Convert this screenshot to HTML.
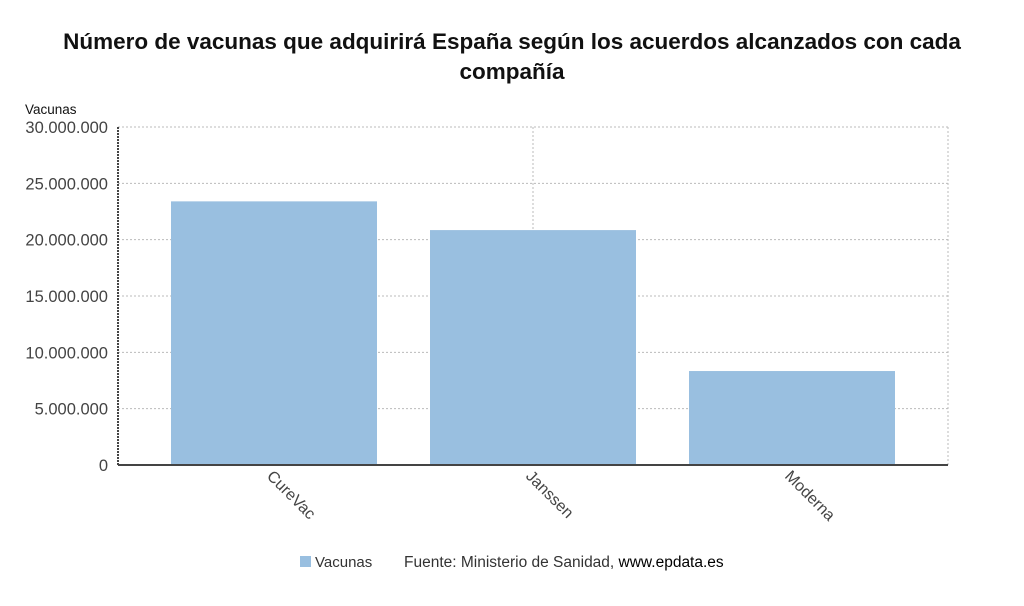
<!DOCTYPE html>
<html><head><meta charset="utf-8"><style>
body{margin:0;background:#fff;width:1024px;height:601px;overflow:hidden;font-family:"Liberation Sans",sans-serif}
</style></head><body>
<svg width="1024" height="601">
<text x="512" y="49" text-anchor="middle" font-size="22.5" font-weight="bold" fill="#111">Número de vacunas que adquirirá España según los acuerdos alcanzados con cada</text>
<text x="512" y="79" text-anchor="middle" font-size="22.5" font-weight="bold" fill="#111">compañía</text>
<text x="25" y="114" font-size="13.5" fill="#111">Vacunas</text>
<g id="g"></g>
<g>
<rect x="300" y="556" width="11" height="11" fill="#99bfe0"/>
<text x="315" y="567" font-size="15" fill="#333">Vacunas</text>
<text x="404" y="567" font-size="15.5" fill="#333">Fuente: Ministerio de Sanidad, <tspan fill="#000">www.epdata.es</tspan></text>
</g>
</svg>
<script>
const categories=["CureVac","Janssen","Moderna"];
const values=[23400000,20850000,8340000];
const ticks=[0,5000000,10000000,15000000,20000000,25000000,30000000];
const tickLabels=["0","5.000.000","10.000.000","15.000.000","20.000.000","25.000.000","30.000.000"];
const NS="http://www.w3.org/2000/svg",g=document.getElementById("g");
const y0=465,y1=127,xl=118,xr=948,yMax=30000000;
const y=v=>y0-(y0-y1)*v/yMax;
const x=i=>274+259*i;
function mk(t,a){const e=document.createElementNS(NS,t);for(const k in a)e.setAttribute(k,a[k]);g.appendChild(e);return e;}
ticks.forEach((t,i)=>{
 if(t>0){const l=mk("line",{x1:xl,x2:xr,y1:y(t),y2:y(t),stroke:"#bbb","stroke-dasharray":"2,2"});
 
 }
 const tx=mk("text",{x:108,y:y(t)+6,"text-anchor":"end","font-size":"16.5",fill:"#444"});tx.textContent=tickLabels[i];
 
 
});
[533,948].forEach(px=>{const l=mk("line",{x1:px,x2:px,y1:y1,y2:y0,stroke:"#bbb","stroke-dasharray":"2,2"});
 
 });
categories.forEach((c,i)=>{
 const r=mk("rect",{x:x(i)-103,y:y(values[i]),width:206,height:y0-y(values[i]),fill:"#99bfe0"});
 
 
 const t=mk("text",{x:x(i)-8,y:y0+12,"font-size":"16","font-weight":"500",fill:"#444",transform:`rotate(45 ${x(i)-8} ${y0+12})`});t.textContent=c;
 
 
});
const ax=mk("line",{x1:xl,x2:xl,y1:y1,y2:y0,stroke:"#444","stroke-width":"2","stroke-dasharray":"2,1"});


const bx=mk("line",{x1:xl,x2:xr,y1:y0,y2:y0,stroke:"#444","stroke-width":"2"});


</script>
</body></html>
